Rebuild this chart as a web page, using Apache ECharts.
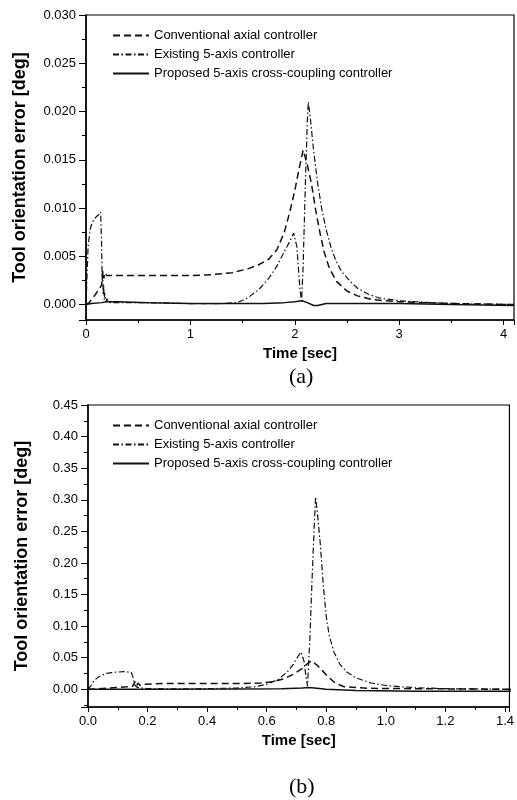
<!DOCTYPE html>
<html>
<head>
<meta charset="utf-8">
<script src="https://cdn.jsdelivr.net/npm/echarts@6/dist/echarts.min.js"></script>
<style>
  html, body { margin: 0; padding: 0; background: #fff; }
  #chart { width: 517px; height: 800px; }
</style>
</head>
<body>
<div id="chart"></div>
<script>
// series names (same three controllers in both plots)
const names = [
  'Conventional axial controller',
  'Existing 5-axis controller',
  'Proposed 5-axis cross-coupling controller'
];

// plot (a): [time sec, error deg]
const convA = [
  [0, 0], [0.03, 0.0002], [0.06, 0.0006], [0.1, 0.0012], [0.13, 0.0017], [0.15, 0.002],
  [0.16, 0.0035], [0.17, 0.0027], [0.18, 0.0033], [0.2, 0.003], [0.5, 0.003], [1.0, 0.003],
  [1.2, 0.0031], [1.4, 0.0033], [1.55, 0.0037], [1.65, 0.0041], [1.75, 0.0047], [1.83, 0.0057],
  [1.9, 0.0075], [1.95, 0.0095], [2.0, 0.0118], [2.04, 0.014], [2.08, 0.016], [2.12, 0.0145],
  [2.16, 0.0125], [2.2, 0.0098], [2.24, 0.0075], [2.28, 0.0055], [2.33, 0.0038], [2.4, 0.0024],
  [2.5, 0.0014], [2.6, 0.0009], [2.75, 0.0005], [3.0, 0.0003], [3.5, 0.0001], [4.1, 0]
];
const existA = [
  [0, 0], [0.01, 0.003], [0.02, 0.006], [0.04, 0.0078], [0.06, 0.0085], [0.09, 0.009],
  [0.12, 0.0093], [0.14, 0.0096], [0.15, 0.006], [0.155, 0.0025], [0.16, 0.0035], [0.165, 0.001],
  [0.17, 0.002], [0.175, 0.0005], [0.18, 0.0012], [0.19, 0.0003], [0.2, 0.0006], [0.22, 0.0002],
  [0.6, 0.0002], [1.0, 0.0001], [1.3, 0.0001], [1.45, 0.0002], [1.55, 0.0007], [1.65, 0.0015],
  [1.75, 0.0027], [1.83, 0.004], [1.9, 0.0055], [1.95, 0.0065], [1.99, 0.0074], [2.02, 0.006],
  [2.05, 0.0015], [2.065, 0.0004], [2.08, 0.004], [2.1, 0.012], [2.12, 0.019], [2.13, 0.021],
  [2.15, 0.0192], [2.18, 0.016], [2.22, 0.0125], [2.26, 0.0098], [2.3, 0.0078], [2.35, 0.0058],
  [2.4, 0.0044], [2.45, 0.0034], [2.53, 0.0024], [2.6, 0.0017], [2.7, 0.0011], [2.8, 0.0007],
  [3.0, 0.0004], [3.3, 0.0002], [3.6, 0.0001], [4.1, 0]
];
const propA = [
  [0, 0], [0.05, 0.0001], [0.15, 0.0002], [0.2, 0.0003], [0.3, 0.0003], [0.6, 0.0002],
  [1.0, 0.0001], [1.7, 0.0001], [1.9, 0.0002], [2.0, 0.0003], [2.07, 0.0004], [2.12, 0.0002],
  [2.18, -0.0001], [2.22, -0.0001], [2.3, 0.0001], [3.0, 0.0001], [3.5, 0], [4.1, -0.0001]
];

// plot (b)
const convB = [
  [0, 0], [0.03, 0.0005], [0.07, 0.002], [0.1, 0.003], [0.13, 0.004], [0.15, 0.005],
  [0.158, 0.012], [0.163, 0.005], [0.168, 0.01], [0.175, 0.006], [0.19, 0.008], [0.25, 0.009],
  [0.5, 0.009], [0.58, 0.01], [0.62, 0.012], [0.66, 0.017], [0.69, 0.024], [0.72, 0.033],
  [0.74, 0.042], [0.75, 0.045], [0.77, 0.038], [0.79, 0.028], [0.81, 0.018], [0.83, 0.01],
  [0.86, 0.004], [0.95, 0.0015], [1.1, 0.001], [1.42, 0]
];
const existB = [
  [0, 0], [0.01, 0.006], [0.02, 0.014], [0.04, 0.021], [0.06, 0.025], [0.09, 0.027],
  [0.12, 0.028], [0.145, 0.027], [0.152, 0.018], [0.158, 0.006], [0.162, 0.009], [0.166, 0.003],
  [0.17, 0.005], [0.18, 0.002], [0.2, 0.001], [0.3, 0.0008], [0.4, 0.001], [0.5, 0.002],
  [0.56, 0.004], [0.6, 0.008], [0.64, 0.016], [0.67, 0.028], [0.69, 0.04], [0.705, 0.052],
  [0.715, 0.059], [0.725, 0.045], [0.732, 0.02], [0.737, 0.005], [0.745, 0.08], [0.752, 0.17],
  [0.758, 0.24], [0.764, 0.305], [0.77, 0.28], [0.78, 0.23], [0.79, 0.165], [0.8, 0.115],
  [0.81, 0.085], [0.825, 0.06], [0.845, 0.04], [0.87, 0.027], [0.9, 0.018], [0.95, 0.01],
  [1.0, 0.006], [1.1, 0.0025], [1.2, 0.001], [1.42, 0]
];
const propB = [
  [0, 0], [0.2, 0], [0.5, 0.0005], [0.65, 0.001], [0.72, 0.002], [0.74, 0.003], [0.76, 0.002],
  [0.8, 0], [0.9, -0.002], [1.1, -0.003], [1.42, -0.003]
];

const font = '"Liberation Sans", Arial, sans-serif';
const dashStyles = [[7, 4], [6, 2.5, 1.5, 2.5], 'solid'];
const widths = [1.5, 1.2, 1.5];

function makeSeries(data, idx, axis) {
  return {
    name: names[idx],
    type: 'line',
    xAxisIndex: axis,
    yAxisIndex: axis,
    data: data,
    symbol: 'none',
    animation: false,
    lineStyle: { color: '#111', width: widths[idx], type: dashStyles[idx] }
  };
}

function xAxisFor(idx, max, interval) {
  return {
    type: 'value', gridIndex: idx, min: 0, max: max, interval: interval,
    name: 'Time [sec]', nameLocation: 'middle', nameGap: 26,
    nameTextStyle: { fontFamily: font, fontWeight: 'bold', fontSize: 15, color: '#000' },
    axisLine: { onZero: false, lineStyle: { color: '#000', width: 1.5 } },
    axisTick: { length: 5, lineStyle: { color: '#000' } },
    minorTick: { show: true, splitNumber: 2, length: 3, lineStyle: { color: '#000' } },
    splitLine: { show: false },
    axisLabel: {
      fontFamily: font, fontSize: 13, color: '#000', margin: 8, showMaxLabel: false,
      formatter: idx === 0 ? (v => String(v)) : (v => v.toFixed(1))
    }
  };
}

function yAxisFor(idx, min, max, split, digits) {
  return {
    type: 'value', gridIndex: idx, min: min, max: max, splitNumber: split,
    name: 'Tool orientation error [deg]', nameLocation: 'middle', nameGap: 57,
    nameTextStyle: { fontFamily: font, fontWeight: 'bold', fontSize: 18, color: '#000' },
    axisLine: { show: true, lineStyle: { color: '#000', width: 1.5 } },
    axisTick: { show: true, length: 7, lineStyle: { color: '#000' } },
    minorTick: { show: true, splitNumber: 2, length: 4, lineStyle: { color: '#000' } },
    splitLine: { show: false },
    axisLabel: {
      fontFamily: font, fontSize: 13, color: '#000', margin: 10, showMinLabel: false,
      formatter: v => v.toFixed(digits)
    }
  };
}

function legendFor(top) {
  return {
    orient: 'vertical', left: 112, top: top, padding: 0,
    itemWidth: 36, itemHeight: 14, itemGap: 6,
    selectedMode: false,
    itemStyle: { opacity: 0 },
    textStyle: { fontFamily: font, fontSize: 13, color: '#000', padding: [0, 0, 0, 0] },
    data: names
  };
}

const chart = echarts.init(document.getElementById('chart'), null, { renderer: 'canvas' });

chart.setOption({
  backgroundColor: '#fff',
  animation: false,
  grid: [
    { left: 86, top: 15, width: 428, height: 305, show: true, borderColor: '#000', borderWidth: 1.2 },
    { left: 88, top: 405, width: 427, height: 302, show: true, borderColor: '#000', borderWidth: 1.2 }
  ],
  legend: [legendFor(29), legendFor(419)],
  xAxis: [xAxisFor(0, 4.1, 1), xAxisFor(1, 1.415, 0.2)],
  yAxis: [yAxisFor(0, -0.0016, 0.03, 6, 3), yAxisFor(1, -0.028, 0.45, 9, 2)],
  graphic: [
    { type: 'text', left: 289, top: 366, style: { text: '(a)', font: '22px "Liberation Serif", serif', fill: '#000' } },
    { type: 'text', left: 289, top: 776, style: { text: '(b)', font: '22px "Liberation Serif", serif', fill: '#000' } }
  ],
  series: [
    makeSeries(convA, 0, 0), makeSeries(existA, 1, 0), makeSeries(propA, 2, 0),
    makeSeries(convB, 0, 1), makeSeries(existB, 1, 1), makeSeries(propB, 2, 1)
  ]
});
</script>
</body>
</html>
